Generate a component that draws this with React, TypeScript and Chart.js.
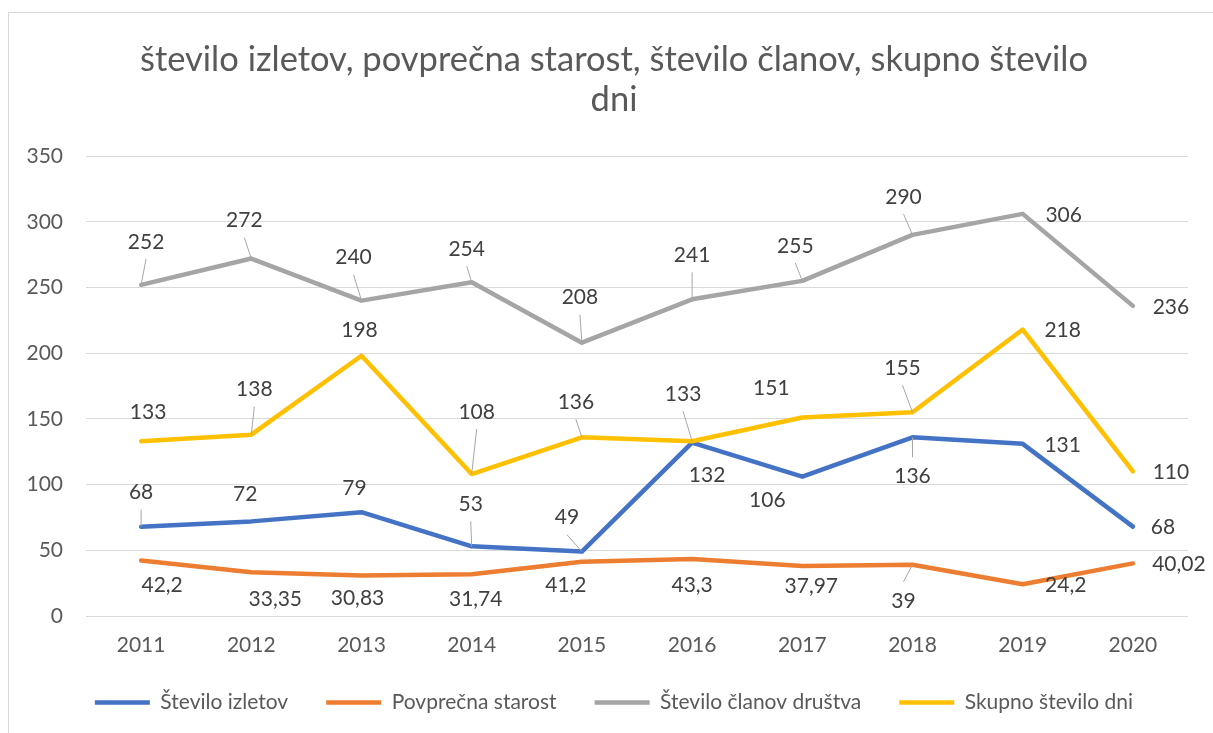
import React, { useEffect, useRef } from 'react';
import { Chart, registerables } from 'chart.js';

Chart.register(...registerables);

// ---- data ----
const years = ['2011', '2012', '2013', '2014', '2015', '2016', '2017', '2018', '2019', '2020'];
const steviloIzletov = [68, 72, 79, 53, 49, 132, 106, 136, 131, 68];
const povprecnaStarost = [42.2, 33.35, 30.83, 31.74, 41.2, 43.3, 37.97, 39, 24.2, 40.02];
const steviloClanov = [252, 272, 240, 254, 208, 241, 255, 290, 306, 236];
const skupnoDni = [133, 138, 198, 108, 136, 133, 151, 155, 218, 110];
const yMin = 0;
const yMax = 350;
const yStep = 50;

const titleLines = ['število izletov, povprečna starost, število članov, skupno število', 'dni'];
const seriesNames = ['Število izletov', 'Povprečna starost', 'Število članov društva', 'Skupno število dni'];

// ---- label placement (styling: pixel offsets of each data label from its point) ----
const offIzletov = [[0, -35], [-6, -28], [-7, -25], [-1, -43], [-15, -35], [15, 32], [-35, 23], [0, 38], [40, 0], [30, 0]];
const offStarost = [[21, 24], [24, 26], [-4, 22], [4, 24], [-16, 22], [0, 25], [9, 19], [-9, 35], [43, 0], [46, 0]];
const offClanov = [[5, -44], [-7, -39], [-8, -44], [-5, -34], [-2, -46], [0, -45], [-7, -36], [-9, -39], [41, 0], [38, 0]];
const offDni = [[7, -30], [3, -46], [-2, -27], [5, -63], [-6, -36], [-9, -48], [-31, -30], [-10, -45], [40, 0], [38, 0]];

const FONT = 'Lato, "Open Sans", sans-serif';

const labelPlugin = {
  id: 'excelLabels',
  afterDraw(chart: any) {
    const ctx = chart.ctx;
    const offsets = [offIzletov, offStarost, offClanov, offDni];
    ctx.save();
    ctx.font = `21px ${FONT}`;
    ctx.textAlign = 'center';
    ctx.textBaseline = 'middle';
    chart.data.datasets.forEach((ds: any, di: number) => {
      const meta = chart.getDatasetMeta(di);
      meta.data.forEach((pt: any, i: number) => {
        const [dx, dy] = offsets[di][i];
        const lx = pt.x + dx;
        const ly = pt.y + dy;
        if (Math.abs(dy) > 32) {
          const s = dy < 0 ? 1 : -1;
          ctx.strokeStyle = '#A6A6A6';
          ctx.lineWidth = 1;
          ctx.beginPath();
          ctx.moveTo(pt.x, pt.y);
          ctx.lineTo(lx, ly + s * 18);
          ctx.stroke();
        }
        ctx.fillStyle = '#404040';
        const txt = String(ds.data[i]).replace('.', ',');
        ctx.fillText(txt, lx, ly + 1);
      });
    });
    ctx.restore();
  },
};

export default function App() {
  const ref = useRef<HTMLCanvasElement | null>(null);

  useEffect(() => {
    if (!ref.current) return;
    const mk = (label: string, data: number[], color: string, order: number) => ({
      label,
      data,
      borderColor: color,
      backgroundColor: color,
      borderWidth: 4.5,
      pointRadius: 0,
      pointHoverRadius: 0,
      tension: 0,
      borderCapStyle: 'round',
      borderJoinStyle: 'round',
      yAxisID: 'y',
      order,
    });
    const chart = new Chart(ref.current, {
      type: 'line',
      data: {
        labels: years,
        datasets: [
          mk(seriesNames[0], steviloIzletov, '#4472C4', 4),
          mk(seriesNames[1], povprecnaStarost, '#ED7D31', 3),
          mk(seriesNames[2], steviloClanov, '#A5A5A5', 2),
          mk(seriesNames[3], skupnoDni, '#FFC000', 1),
        ] as any,
      },
      options: {
        responsive: false,
        animation: false,
        devicePixelRatio: 1,
        layout: { padding: { left: 6, right: 0, top: 0, bottom: 10 } },
        plugins: {
          title: {
            display: true,
            text: titleLines,
            color: '#595959',
            font: { family: FONT, size: 34.5, weight: 'normal', lineHeight: 1.16 },
            padding: { top: 27, bottom: 36 },
          },
          legend: {
            position: 'bottom',
            labels: {
              color: '#595959',
              font: { family: FONT, size: 21 },
              usePointStyle: true,
              pointStyle: 'line',
              pointStyleWidth: 55,
              padding: 38,
              sort: (a: any, b: any) => a.datasetIndex - b.datasetIndex,
            },
          },
          tooltip: { enabled: false },
        },
        scales: {
          x: {
            offset: true,
            grid: { display: false, drawTicks: false },
            border: { display: false },
            ticks: { color: '#595959', font: { family: FONT, size: 21 }, padding: 17 },
            afterFit: (s: any) => { s.height = 38; },
          },
          y: {
            min: yMin,
            max: yMax,
            ticks: { stepSize: yStep, color: '#595959', font: { family: FONT, size: 21 }, padding: 23 },
            grid: { color: '#D9D9D9', lineWidth: 1, drawTicks: false },
            border: { display: false },
            afterFit: (s: any) => { s.width = 71; },
          },
          yRight: {
            position: 'right',
            display: true,
            grid: { display: false, drawTicks: false },
            border: { display: false },
            ticks: { display: false },
            afterFit: (s: any) => { s.width = 25; },
          },
        },
      },
      plugins: [labelPlugin],
    } as any);
    return () => chart.destroy();
  }, []);

  return (
    <div style={{ position: 'absolute', top: 12, left: 8, width: 1205, height: 721, overflow: 'hidden', borderLeft: '1px solid #D9D9D9', borderTop: '1px solid #D9D9D9', background: '#fff', boxSizing: 'border-box' }}>
      <canvas ref={ref} width={1204} height={720} style={{ display: 'block' }} />
    </div>
  );
}
